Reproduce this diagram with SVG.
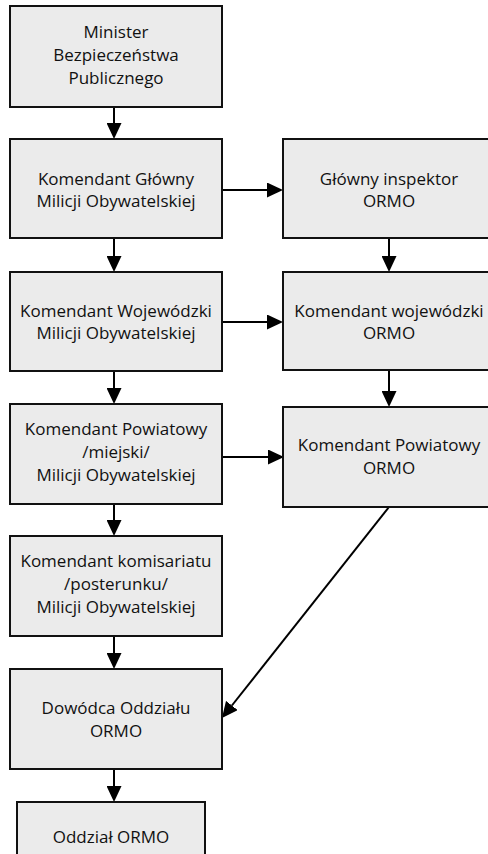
<svg xmlns="http://www.w3.org/2000/svg" width="488" height="854" viewBox="0 0 488 854">
<defs>
<style>
.box rect{fill:#ebebeb;stroke:#111;stroke-width:2}
.box text{font-family:"Open Sans","Noto Sans","Liberation Sans",sans-serif;font-size:17px;fill:#111;text-anchor:middle}
.conn line{stroke:#000;stroke-width:2;fill:none}
</style>
<marker id="ah" markerUnits="userSpaceOnUse" markerWidth="16" markerHeight="15" refX="0" refY="7.5" orient="auto" viewBox="0 0 16 15">
<path d="M0,0 L16,7.5 L0,15 z" fill="#000"/>
</marker>
</defs>
<rect width="488" height="854" fill="#fff"/>
<g class="conn">
<line x1="114" y1="107" x2="114" y2="123" marker-end="url(#ah)"/>
<line x1="114" y1="238" x2="114" y2="256" marker-end="url(#ah)"/>
<line x1="114" y1="371" x2="114" y2="388" marker-end="url(#ah)"/>
<line x1="114" y1="504" x2="114" y2="520" marker-end="url(#ah)"/>
<line x1="114" y1="636" x2="114" y2="653" marker-end="url(#ah)"/>
<line x1="114" y1="769" x2="114" y2="786" marker-end="url(#ah)"/>
<line x1="389" y1="238" x2="389" y2="256" marker-end="url(#ah)"/>
<line x1="389" y1="370" x2="389" y2="391" marker-end="url(#ah)"/>
<line x1="222" y1="190" x2="267" y2="190" marker-end="url(#ah)"/>
<line x1="222" y1="322" x2="267" y2="322" marker-end="url(#ah)"/>
<line x1="222" y1="457" x2="268" y2="457" marker-end="url(#ah)"/>
<line x1="389" y1="507" x2="231.9" y2="705.5" marker-end="url(#ah)"/>
</g>
<g id="minister" class="box">
<rect x="10" y="6" width="212" height="101"/>
<text x="116" y="38">Minister</text>
<text x="116" y="61">Bezpieczeństwa</text>
<text x="116" y="84">Publicznego</text>
</g>
<g id="komendant-glowny" class="box">
<rect x="10" y="139" width="212" height="99"/>
<text x="116" y="185">Komendant Główny</text>
<text x="116" y="207">Milicji Obywatelskiej</text>
</g>
<g id="glowny-inspektor" class="box">
<rect x="283" y="139" width="212" height="99"/>
<text x="389" y="185">Główny inspektor</text>
<text x="389" y="207">ORMO</text>
</g>
<g id="komendant-wojewodzki-mo" class="box">
<rect x="10" y="272" width="212" height="99"/>
<text x="116" y="317">Komendant Wojewódzki</text>
<text x="116" y="339">Milicji Obywatelskiej</text>
</g>
<g id="komendant-wojewodzki-ormo" class="box">
<rect x="283" y="272" width="212" height="98"/>
<text x="389" y="317">Komendant wojewódzki</text>
<text x="389" y="339">ORMO</text>
</g>
<g id="komendant-powiatowy-mo" class="box">
<rect x="10" y="404" width="212" height="100"/>
<text x="116" y="435">Komendant Powiatowy</text>
<text x="116" y="458">/miejski/</text>
<text x="116" y="481">Milicji Obywatelskiej</text>
</g>
<g id="komendant-powiatowy-ormo" class="box">
<rect x="283" y="407" width="212" height="100"/>
<text x="389" y="451">Komendant Powiatowy</text>
<text x="389" y="474">ORMO</text>
</g>
<g id="komendant-komisariatu" class="box">
<rect x="10" y="536" width="212" height="100"/>
<text x="116" y="567">Komendant komisariatu</text>
<text x="116" y="590">/posterunku/</text>
<text x="116" y="613">Milicji Obywatelskiej</text>
</g>
<g id="dowodca-oddzialu" class="box">
<rect x="10" y="669" width="212" height="100"/>
<text x="116" y="714">Dowódca Oddziału</text>
<text x="116" y="737">ORMO</text>
</g>
<g id="oddzial-ormo" class="box">
<rect x="17" y="802" width="188" height="70"/>
<text x="111" y="843">Oddział ORMO</text>
</g>
</svg>
